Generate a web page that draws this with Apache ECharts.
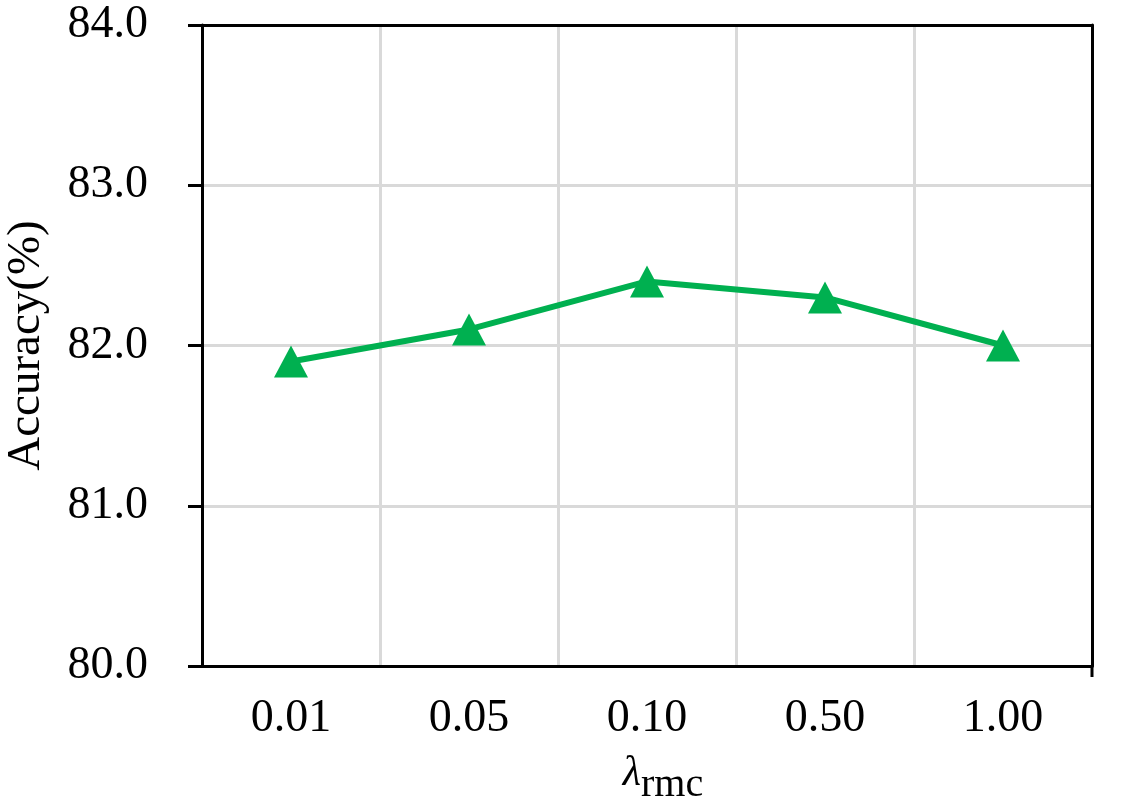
<!DOCTYPE html>
<html>
<head>
<meta charset="utf-8">
<script src="https://cdn.jsdelivr.net/npm/echarts@6/dist/echarts.min.js"></script>
<style>
  html, body { margin: 0; padding: 0; background: #fff; }
  #main { width: 1138px; height: 802px; }
</style>
</head>
<body>
<div id="main"></div>
<script>
// 数据
var categories = ['0.01', '0.05', '0.10', '0.50', '1.00'];
var accuracy = [81.9, 82.1, 82.4, 82.3, 82.0];
var yMin = 80, yMax = 84, yStep = 1;

var green = '#00b050',
	font = '"Liberation Serif", "Times New Roman", serif';

var myChart = echarts.init(document.getElementById('main'));

var option = {
	backgroundColor: '#fff',
	animation: false,
	grid: {
		left: 202,
		right: 46,
		top: 25,
		bottom: 136,
		outerBoundsMode: 'none',
		containLabel: false
	},
	xAxis: [{
		type: 'category',
		data: categories,
		boundaryGap: true,
		axisLine: { lineStyle: { color: '#000', width: 3 } },
		axisTick: { alignWithLabel: true, length: 11, lineStyle: { color: '#000', width: 3 } },
		axisLabel: { color: '#000', fontFamily: font, fontSize: 46, margin: 30 },
		splitLine: { show: true, lineStyle: { color: '#d9d9d9', width: 3 } },
		name: '{l|λ}{s|rmc}',
		nameLocation: 'middle',
		nameGap: 77,
		nameTextStyle: {
			padding: [0, 0, 0, 32],
			rich: {
				l: { fontFamily: font, fontStyle: 'italic', fontSize: 42, color: '#000' },
				s: { fontFamily: font, fontSize: 40, color: '#000', padding: [22, 0, 0, 0] }
			}
		}
	}, {
		// 上边框
		type: 'category',
		data: categories,
		position: 'top',
		axisLine: { lineStyle: { color: '#000', width: 3 } },
		axisTick: { show: false },
		axisLabel: { show: false }
	}],
	yAxis: [{
		type: 'value',
		min: yMin,
		max: yMax,
		interval: yStep,
		axisLine: { show: true, lineStyle: { color: '#000', width: 3 } },
		axisTick: { show: true, length: 14, lineStyle: { color: '#000', width: 3 } },
		axisLabel: {
			color: '#000', fontFamily: font, fontSize: 46, margin: 54,
			formatter: function(v) { return v.toFixed(1); }
		},
		splitLine: { show: true, lineStyle: { color: '#d9d9d9', width: 3 } },
		name: 'Accuracy(%)',
		nameLocation: 'middle',
		nameGap: 152,
		nameTextStyle: { color: '#000', fontFamily: font, fontSize: 47 }
	}, {
		// 右边框
		type: 'value',
		min: yMin,
		max: yMax,
		interval: yStep,
		position: 'right',
		axisLine: { show: true, lineStyle: { color: '#000', width: 3 } },
		axisTick: { show: false },
		axisLabel: { show: false },
		splitLine: { show: false }
	}],
	series: [{
		type: 'line',
		data: accuracy,
		symbol: 'triangle',
		symbolSize: [34, 32],
		lineStyle: { color: green, width: 6 },
		itemStyle: { color: green },
		z: 5
	}]
};

myChart.setOption(option);

// 右下角边框线向下延伸一点
var rx = myChart.getModel().getComponent('grid', 0).coordinateSystem.getRect();
myChart.setOption({
	graphic: [{
		type: 'line',
		shape: { x1: rx.x + rx.width, y1: rx.y + rx.height, x2: rx.x + rx.width, y2: rx.y + rx.height + 11 },
		style: { stroke: '#000', lineWidth: 3 }
	}]
});
</script>
</body>
</html>
